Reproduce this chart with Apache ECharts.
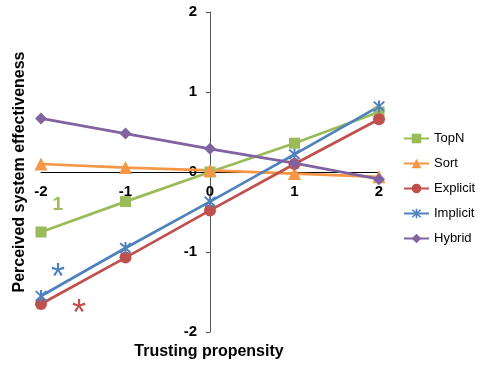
<!DOCTYPE html>
<html>
<head>
<meta charset="utf-8">
<script src="https://cdn.jsdelivr.net/npm/echarts@6/dist/echarts.min.js"></script>
<style>
  html, body { margin: 0; padding: 0; background: #fff; }
  #chart { width: 481px; height: 366px; }
</style>
</head>
<body>
<div id="chart"></div>
<script>
// Trusting propensity levels (x) and the effect on perceived system effectiveness per condition
const propensity = [-2, -1, 0, 1, 2];
const topN     = [-0.75, -0.37, 0.00, 0.36, 0.75];
const sortVals = [0.10, 0.055, 0.02, -0.02, -0.06];
const explicit = [-1.65, -1.07, -0.48, 0.10, 0.66];
const implicit = [-1.55, -0.95, -0.37, 0.22, 0.82];
const hybrid   = [0.67, 0.48, 0.29, 0.11, -0.09];

const seriesNames = ['TopN', 'Sort', 'Explicit', 'Implicit', 'Hybrid'];
const yTicks = [-2, -1, 0, 1, 2];

// Significance marks: [text, x, y, colour]
const marks = [
  ['1', -1.80, -0.41, '#9BBB59'],
  ['*', -1.80, -1.24, '#4F81BD'],
  ['*', -1.55, -1.69, '#C0504D']
];

const FONT = '"Liberation Sans", Arial, Helvetica, sans-serif';
// Asterisk-style marker built from three bars
const starPath = 'path://M8.5 0L11.5 0L11.5 20L8.5 20Z M0.9 3.1L3.1 0.9L19.1 16.9L16.9 19.1Z M16.9 0.9L19.1 3.1L3.1 19.1L0.9 16.9Z';

const GRID = { left: 41, right: 102, top: 12, bottom: 34 };
const plotW = 481 - GRID.left - GRID.right;
const plotH = 366 - GRID.top - GRID.bottom;

const pairs = arr => propensity.map((x, i) => [x, arr[i]]);

function lineSeries(name, data, color, symbol, size) {
  return {
    name: name,
    type: 'line',
    data: pairs(data),
    symbol: symbol,
    symbolSize: size,
    lineStyle: { color: color, width: 2.75 },
    itemStyle: { color: color },
    emphasis: { disabled: true },
    animation: false
  };
}

const chart = echarts.init(document.getElementById('chart'), null, { renderer: 'canvas' });

chart.setOption({
  backgroundColor: '#fff',
  animation: false,
  grid: Object.assign({ containLabel: false }, GRID),
  xAxis: {
    type: 'value',
    position: 'bottom',
    offset: -plotH / 2,          // axis runs through y = 0
    min: -2, max: 2, interval: 1,
    axisLine: { onZero: false, lineStyle: { color: '#000', width: 1 } },
    axisTick: { show: false },
    splitLine: { show: false },
    axisLabel: { margin: 12, color: '#000', fontSize: 15, fontWeight: 'bold', fontFamily: FONT }
  },
  yAxis: {
    type: 'value',
    position: 'left',
    offset: -plotW / 2,          // axis runs through x = 0
    min: yTicks[0], max: yTicks[yTicks.length - 1], interval: 1,
    axisLine: { show: true, onZero: false, lineStyle: { color: '#555', width: 1 } },
    axisTick: { show: true, inside: false, length: 4, lineStyle: { color: '#555' } },
    splitLine: { show: false },
    axisLabel: { margin: 13, color: '#000', fontSize: 15, fontWeight: 'bold', fontFamily: FONT }
  },
  legend: {
    orient: 'vertical',
    left: 403, top: 132,
    padding: 0,
    itemWidth: 25, itemHeight: 12, itemGap: 12,
    data: seriesNames,
    textStyle: { color: '#000', fontSize: 13, fontFamily: FONT, lineHeight: 12 }
  },
  series: [
    lineSeries('TopN', topN, '#9BBB59', 'rect', 11),
    lineSeries('Sort', sortVals, '#F79646', 'triangle', 13),
    lineSeries('Explicit', explicit, '#C0504D', 'circle', 12),
    lineSeries('Implicit', implicit, '#4F81BD', starPath, 12),
    lineSeries('Hybrid', hybrid, '#8064A2', 'diamond', 12)
  ]
});

// Axis titles and significance marks placed through the grid's coordinate system
const graphics = [
  {
    type: 'text',
    x: 209, y: 352,
    style: { text: 'Trusting propensity', fill: '#000', font: 'bold 16px ' + FONT, textAlign: 'center', textVerticalAlign: 'middle' }
  },
  {
    type: 'text',
    x: 20, y: 172, rotation: Math.PI / 2,
    style: { text: 'Perceived system effectiveness', fill: '#000', font: 'bold 16px ' + FONT, textAlign: 'center', textVerticalAlign: 'middle' }
  }
];
marks.forEach(m => {
  const p = chart.convertToPixel({ gridIndex: 0 }, [m[1], m[2]]);
  const isStar = m[0] === '*';
  graphics.push({
    type: 'text',
    x: p[0], y: isStar ? p[1] + 8 : p[1],
    style: {
      text: m[0], fill: m[3],
      font: (isStar ? '36px ' : 'bold 19px ') + FONT,
      textAlign: 'center', textVerticalAlign: 'middle'
    }
  });
});
chart.setOption({ graphic: graphics });
</script>
</body>
</html>
